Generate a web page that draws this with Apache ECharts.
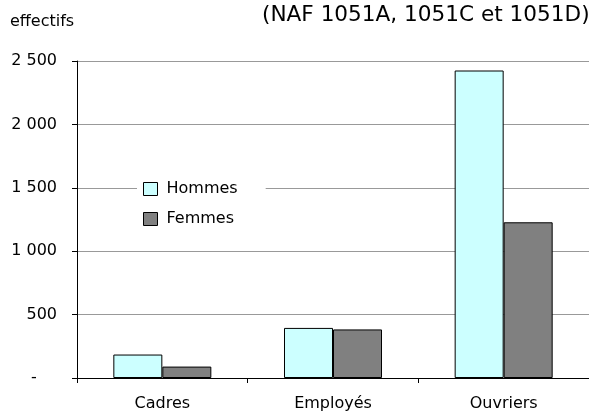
<!DOCTYPE html>
<html>
<head>
<meta charset="utf-8">
<script src="https://cdn.jsdelivr.net/npm/echarts@6.0.0/dist/echarts.min.js"></script>
<style>
html,body{margin:0;padding:0;background:#fff;}
#chart{width:589px;height:412px;}
</style>
</head>
<body>
<div id="chart"></div>
<script>
var titleText = "(NAF 1051A, 1051C et 1051D)";
var yAxisTitle = "effectifs";
var categories = ["Cadres", "Employés", "Ouvriers"];
var seriesNames = ["Hommes", "Femmes"];
var hommes = [185, 395, 2425];
var femmes = [90, 383, 1228];
var yTicks = [0, 500, 1000, 1500, 2000, 2500];

var FONT = "DejaVu Sans";
function fmt(v) {
  if (v === 0) return "-    ";
  var s = String(v);
  return s.replace(/\B(?=(\d{3})+(?!\d))/g, " ");
}

var chart = echarts.init(document.getElementById('chart'), null, {renderer: 'canvas'});
chart.setOption({
  animation: false,
  backgroundColor: '#fff',
  textStyle: {fontFamily: FONT, color: '#000'},
  title: [
    {text: titleText, left: 262, top: 4, padding: 0,
     textStyle: {fontFamily: FONT, fontSize: 21.6, fontWeight: 'normal', color: '#000'}},
    {text: yAxisTitle, left: 10, top: 14, padding: 0,
     textStyle: {fontFamily: FONT, fontSize: 16, fontWeight: 'normal', color: '#000'}}
  ],
  legend: {
    orient: 'vertical',
    left: 137, top: 173,
    padding: [8, 28, 8, 6],
    backgroundColor: '#fff',
    itemWidth: 14, itemHeight: 13, itemGap: 14,
    icon: 'rect',
    data: seriesNames,
    itemStyle: {borderColor: '#000', borderWidth: 1},
    textStyle: {fontFamily: FONT, fontSize: 16, color: '#000', padding: [0, 0, 0, 4]}
  },
  grid: {left: 77, top: 61, width: 513, height: 318, containLabel: false},
  xAxis: {
    type: 'category',
    data: categories,
    boundaryGap: true,
    axisLine: {lineStyle: {color: '#000', width: 1}},
    axisTick: {show: true, interval: 0, length: 5, lineStyle: {color: '#000'}},
    axisLabel: {margin: 18, fontFamily: FONT, fontSize: 16, color: '#000', interval: 0}
  },
  yAxis: {
    type: 'value',
    min: yTicks[0], max: yTicks[yTicks.length - 1], interval: 500,
    axisLine: {show: true, lineStyle: {color: '#000', width: 1}},
    axisTick: {show: true, length: 5, lineStyle: {color: '#000'}},
    axisLabel: {margin: 20, fontFamily: FONT, fontSize: 16, color: '#000', formatter: fmt},
    splitLine: {show: true, lineStyle: {color: '#999', width: 1}}
  },
  series: [
    {name: seriesNames[0], type: 'bar', data: hommes, barWidth: 49, barGap: '0%',
     itemStyle: {color: '#CCFFFF', borderColor: '#000', borderWidth: 1}},
    {name: seriesNames[1], type: 'bar', data: femmes, barWidth: 49, barGap: '0%',
     itemStyle: {color: '#808080', borderColor: '#000', borderWidth: 1}}
  ]
});
</script>
</body>
</html>
